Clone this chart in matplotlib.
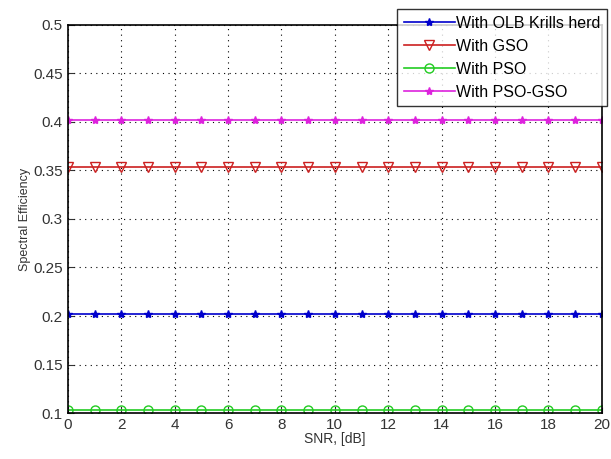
import matplotlib
matplotlib.use("Agg")
import matplotlib.pyplot as plt

plt.rcParams['font.family'] = ['Liberation Sans', 'DejaVu Sans']

snr = [0, 1, 2, 3, 4, 5, 6, 7, 8, 9, 10, 11, 12, 13, 14, 15, 16, 17, 18, 19, 20]
olb_krill = [0.202] * 21
gso = [0.354] * 21
pso = [0.103] * 21
pso_gso = [0.402] * 21
labels = ['With OLB Krills herd', 'With GSO', 'With PSO', 'With PSO-GSO']
xticks = [0, 2, 4, 6, 8, 10, 12, 14, 16, 18, 20]
yticks = [0.1, 0.15, 0.2, 0.25, 0.3, 0.35, 0.4, 0.45, 0.5]

fig = plt.figure(figsize=(6.11, 4.59), dpi=100)
ax = fig.add_axes([0.111, 0.1, 0.874, 0.846])

ax.plot(snr, olb_krill, color='#0000cc', marker='*', markersize=6, linewidth=1.2, label=labels[0])
ax.plot(snr, gso, color='#cc2020', marker='v', markersize=6.5, markerfacecolor='none', linewidth=1.2, label=labels[1])
ax.plot(snr, pso, color='#22cc22', marker='o', markersize=6.5, markerfacecolor='none', linewidth=1.2, label=labels[2])
ax.plot(snr, pso_gso, color='#dd22dd', marker='*', markersize=6, linewidth=1.2, label=labels[3])

ax.set_xlim(0, 20)
ax.set_ylim(0.1, 0.5)
ax.set_xticks(xticks)
ax.set_yticks(yticks)
ax.set_xticklabels([str(t) for t in xticks])
ax.set_yticklabels(['0.1', '0.15', '0.2', '0.25', '0.3', '0.35', '0.4', '0.45', '0.5'])
ax.tick_params(direction='in', labelsize=11, colors='#333333', length=4)
ax.grid(True, linestyle=(0, (1, 4)), color='black', linewidth=0.8)
ax.set_xlabel('SNR, [dB]', fontsize=10, labelpad=0, color='#333333')
ax.set_ylabel('Spectral Efficiency', fontsize=9, labelpad=2, color='#333333')
for s in ax.spines.values():
    s.set_linewidth(1.2)

leg = ax.legend(loc='upper right', fontsize=11.5, frameon=True, fancybox=False,
                edgecolor='black', borderaxespad=0.0, handlelength=3.2,
                handletextpad=0.1, labelspacing=0.5, borderpad=0.4,
                bbox_to_anchor=(1.01, 1.04))
leg.get_frame().set_linewidth(1.0)

fig.savefig('out.png', dpi=100)
